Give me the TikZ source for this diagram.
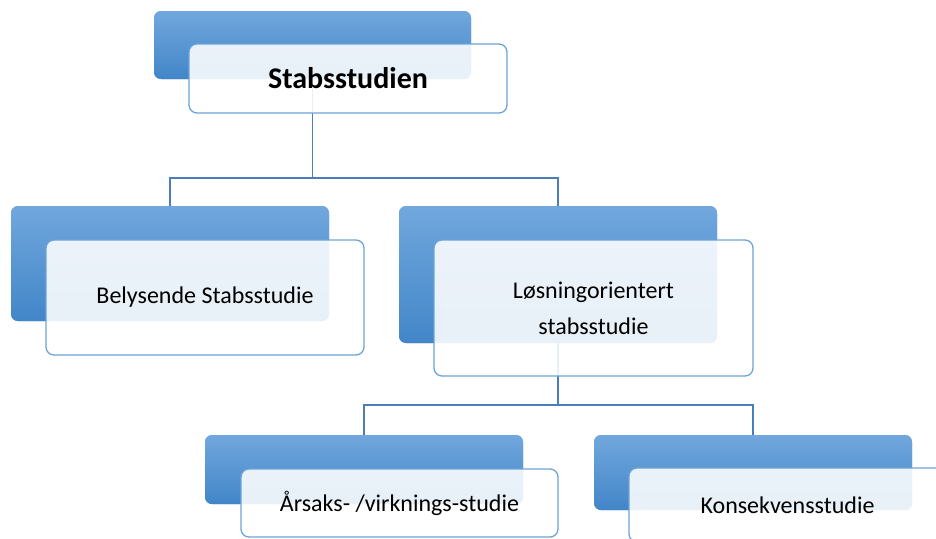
\documentclass[tikz,border=0pt]{standalone}
\usepackage{fontspec}
\setmainfont{Carlito}
\begin{document}
\begin{tikzpicture}[x=1pt,y=-1pt,
  backbox/.style={rectangle,rounded corners=7pt,top color=backtop,bottom color=backbot,
     draw=none,inner sep=0pt,outer sep=0pt},
  frontbox/.style={rectangle,rounded corners=8pt,fill=white,fill opacity=0.88,text opacity=1,
     draw=frontline,line width=1.3pt,inner sep=0pt,outer sep=0pt,align=center,
     font=\fontsize{24}{36}\selectfont,text=black},
  conn/.style={draw=connline,line width=1.2pt}]
\definecolor{backtop}{RGB}{113,167,221}
\definecolor{backbot}{RGB}{66,134,200}
\definecolor{frontline}{RGB}{110,163,216}
\definecolor{connline}{RGB}{74,126,187}
\useasboundingbox (0,0) rectangle (936,538);
% back boxes
\node[backbox,minimum width=317pt,minimum height=68pt] (tb) at (312.5,45) {};
\node[backbox,minimum width=318pt,minimum height=115pt] (b1) at (170,263.5) {};
\node[backbox,minimum width=318pt,minimum height=137pt] (b2) at (558,274.5) {};
\node[backbox,minimum width=318pt,minimum height=69pt] (b3) at (364,469.5) {};
\node[backbox,minimum width=318pt,minimum height=75pt] (b4) at (753,472.5) {};
% connectors
\coordinate (j1) at (314,178);
\coordinate (j2) at (558,405);
\draw[conn] (tb.south) -- (tb.south |- j1);
\draw[conn] (b1.north) |- (j1) -| (b2.north);
\draw[conn] (b2.south) -- (b2.south |- j2);
\draw[conn] (b3.north) |- (j2) -| (b4.north);
% redraw back boxes over connector ends
\node[backbox,minimum width=317pt,minimum height=68pt] at (312.5,45) {};
\node[backbox,minimum width=318pt,minimum height=115pt] at (170,263.5) {};
\node[backbox,minimum width=318pt,minimum height=137pt] at (558,274.5) {};
\node[backbox,minimum width=318pt,minimum height=69pt] at (364,469.5) {};
\node[backbox,minimum width=318pt,minimum height=75pt] at (753,472.5) {};
% front boxes
\node[frontbox,minimum width=318pt,minimum height=69pt,font=\fontsize{30}{36}\selectfont\bfseries] (t) at (348,78.5) {Stabsstudien};
\node[frontbox,minimum width=318pt,minimum height=115pt] (f1) at (205,297.5) {Belysende Stabsstudie};
\node[frontbox,minimum width=319pt,minimum height=136pt] (f2) at (593.5,308) {Løsningorientert\\stabsstudie};
\node[frontbox,minimum width=317pt,minimum height=68pt] (f3) at (399.5,503) {Årsaks- /virknings-studie};
\node[frontbox,minimum width=317pt,minimum height=74pt] (f4) at (787.5,505) {Konsekvensstudie};
\end{tikzpicture}
\end{document}
